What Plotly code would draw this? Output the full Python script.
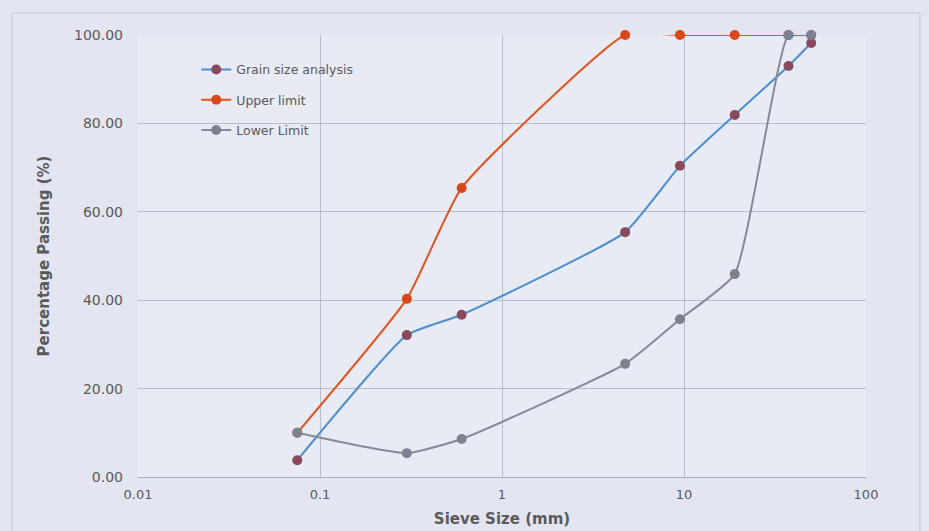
import plotly.graph_objects as go

sieve = [0.075, 0.3, 0.6, 4.75, 9.5, 19, 37.5, 50]
grain = [3.8, 32.1, 36.7, 55.4, 70.4, 81.9, 93.0, 98.2]
upper = [10.0, 40.3, 65.4, 100.0, 100.0, 100.0, 100.0, 100.0]
lower = [10.0, 5.4, 8.6, 25.6, 35.7, 45.9, 100.0, 100.0]

font_family = "DejaVu Sans, Verdana, sans-serif"
txt = "#5a5a5a"
bg = "#e3e5f0"

fig = go.Figure()
fig.add_trace(go.Scatter(
    x=sieve, y=grain, name="Grain size analysis", mode="lines+markers", legendgroup="g",
    line=dict(color="#4a8fd0", width=2, shape="spline", smoothing=0.45),
    marker=dict(color="#8a4a5c", size=10), cliponaxis=False))
fig.add_trace(go.Scatter(
    x=sieve, y=upper, name="Upper limit", mode="lines+markers", legendgroup="u",
    line=dict(color="#e0551f", width=2, shape="spline", smoothing=0.45),
    marker=dict(color="#d9471a", size=10), cliponaxis=False))
fig.add_trace(go.Scatter(
    x=sieve, y=lower, name="Lower Limit", mode="lines+markers", legendgroup="l",
    line=dict(color="#868a94", width=2, shape="spline", smoothing=0.45),
    marker=dict(color="#7c8290", size=10), cliponaxis=False))

fig.update_layout(
    width=929, height=531,
    margin=dict(l=138, r=63, t=35, b=54),
    paper_bgcolor=bg,
    plot_bgcolor="#e8eaf4",
    font=dict(family=font_family, color=txt, size=13),
    showlegend=True,
    legend=dict(x=0.08, y=0.955, xanchor="left", yanchor="top",
                bgcolor="rgba(0,0,0,0)", font=dict(size=12.5, color=txt),
                tracegroupgap=11, itemwidth=30),
    xaxis=dict(type="log", range=[-2, 2], automargin=False,
               tickvals=[0.01, 0.1, 1, 10, 100],
               ticktext=["0.01", "0.1", "1", "10", "100"],
               showgrid=True, gridcolor="#b9bdca", gridwidth=1,
               showline=True, linecolor="#a9adb8", linewidth=1,
               zeroline=False, ticks="", ticklabelstandoff=5,
               tickfont=dict(size=13, color=txt),
               title=dict(text="<b>Sieve Size (mm)</b>", font=dict(size=15, color=txt), standoff=12)),
    yaxis=dict(range=[0, 100], tickvals=[0, 20, 40, 60, 80, 100], automargin=False,
               tickformat=".2f",
               showgrid=True, gridcolor="#b9bdca", gridwidth=1,
               zeroline=False, showline=False, ticks="", ticklabelstandoff=14,
               tickfont=dict(size=14, color=txt),
               title=dict(text="<b>Percentage Passing (%)</b>", font=dict(size=15, color=txt), standoff=20)),
    shapes=[dict(type="rect", xref="paper", yref="paper",
                 x0=-0.173, x1=1.074, y0=-0.2, y1=1.05,
                 line=dict(color="#c4c7d2", width=1), fillcolor="rgba(0,0,0,0)", layer="below")],
)

fig.write_html("out.html", config={"displayModeBar": False})

with open("out.html", "r", encoding="utf-8") as f:
    html = f.read()
html = html.replace("<body>", '<body style="margin:0;background:%s;overflow:hidden">' % bg, 1)
with open("out.html", "w", encoding="utf-8") as f:
    f.write(html)
